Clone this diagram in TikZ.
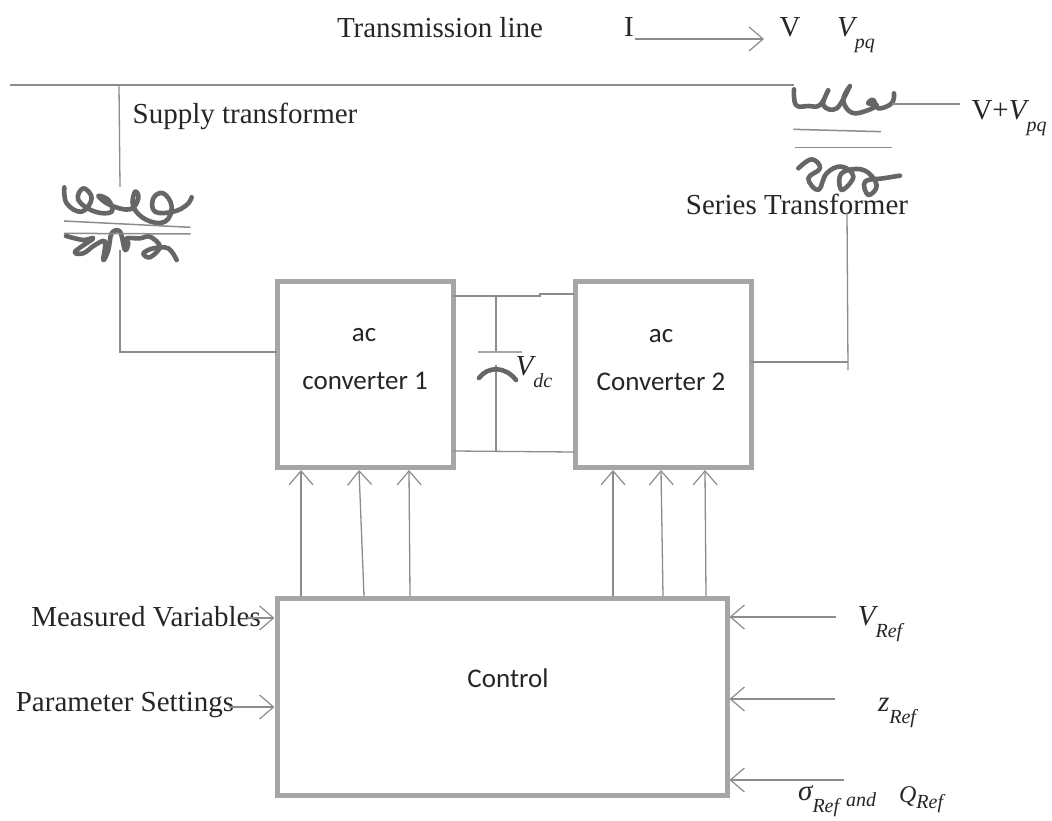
\documentclass[tikz,border=0pt]{standalone}
\usepackage{fontspec}
\setmainfont{Liberation Serif}
\newfontfamily\boxfont{Carlito}
\usetikzlibrary{arrows.meta}
\definecolor{boxgray}{HTML}{A6A6A6}
\definecolor{linegray}{HTML}{8C8C8C}
\definecolor{inkgray}{HTML}{666666}
\definecolor{txt}{HTML}{262626}
\newcommand{\mi}[2]{{\itshape #1}{\raisebox{-0.4em}{\itshape\fontsize{20}{20}\selectfont #2}}}
\tikzset{
  blockbox/.style={draw=boxgray,line width=5pt,fill=none,inner sep=0pt,outer sep=0pt},
  wire/.style={draw=linegray,line width=1.3pt},
  sig/.style={wire,-{Straight Barb[length=14pt,width=24pt,line width=1.2pt]}},
  coil/.style={draw=inkgray,line width=4.6pt,line cap=round,line join=round},
  lbl/.style={text=txt,inner sep=0pt,font=\fontsize{29}{32}\selectfont},
  boxlbl/.style={text=txt,inner sep=0pt,font=\boxfont\fontsize{27}{30}\selectfont,align=center},
}
\begin{document}
\begin{tikzpicture}[x=1pt,y=-1pt]
\useasboundingbox (0,0) rectangle (1052,821);
% blocks
\node[blockbox,minimum width=176pt,minimum height=186pt,anchor=north west] (c1) at (277,281) {};
\node[blockbox,minimum width=176pt,minimum height=186pt,anchor=north west] (c2) at (575,281) {};
\node[blockbox,minimum width=450pt,minimum height=197pt,anchor=north west] (ctl) at (277,598) {};
\node[boxlbl] (c1a) at (364,335) {ac};
\node[boxlbl] (c1b) at (365,381) {converter 1};
\node[boxlbl] (c2a) at (661,336) {ac};
\node[boxlbl] (c2b) at (661,382) {Converter 2};
\node[boxlbl] (ctltxt) at (508,678) {Control};
% labels
\node[lbl] (tl) at (440,28) {Transmission line};
\node[lbl] (I) at (629,27) {I};
\node[lbl] (V) at (790,27) {V};
\node[lbl] (vpq) at (856,35) {\mi{V}{pq}};
\node[lbl] (st) at (245,116) {Supply transformer};
\node[lbl] (vv) at (1009,118) {V+\mi{V}{pq}};
\node[lbl] (se) at (797,204) {Series Transformer};
\node[lbl] (vdc) at (534,372) {\mi{V}{dc}};
\node[lbl] (mv) at (146,617) {Measured Variables};
\node[lbl] (ps) at (125,705) {Parameter Settings};
\node[lbl] (vr) at (880,624) {\mi{V}{Ref}};
\node[lbl] (zr) at (897,713) {\mi{z}{Ref}};
\node[lbl,anchor=west] (sr) at (798,801) {\mi{σ}{Ref}\hspace{7pt}{\itshape\fontsize{20}{20}\selectfont\raisebox{-0.3em}{and}\hspace{23pt}{\fontsize{24}{24}\selectfont\raisebox{-0.1em}{Q}}\raisebox{-0.4em}{Ref}}};
% top line and current arrow
\coordinate (lineL) at (10,85);
\coordinate (lineR) at (794,85);
\draw[wire] (lineL) -- (lineR);
\coordinate (iS) at (635,39);
\coordinate (iE) at (764,39);
\draw[sig] (iS) -- (iE);
% supply transformer
\coordinate (tap) at (119,85);
\coordinate (sup1) at (120,187);
\coordinate (sup2) at (120,250);
\coordinate (sup3) at (120,352);
\draw[wire] (tap) -- (sup1);
\draw[wire] (sup2) -- (sup3) -- (c1.west |- sup3);
\begin{scope}[shift={(40,170)},x=0.3333pt,y=-0.3333pt]
\draw[coil] plot[smooth,tension=0.7] coordinates {(73,52) (80,100) (125,125) (155,85) (130,55) (115,90) (165,125) (215,125) (205,90) (175,78) (210,105) (270,118) (295,85) (285,65) (280,110) (320,150) (375,155) (395,110) (370,70) (340,85) (345,125) (400,125) (440,105) (455,82)};
\draw[coil] plot[smooth,tension=0.6] coordinates {(78,198) (130,210) (160,205) (105,245) (130,250) (165,225) (195,215) (190,270) (205,240) (215,190) (240,185) (255,240) (265,220) (260,205) (300,205) (330,200) (360,230) (330,262) (310,250) (340,235) (385,235) (410,270)};
\draw[line width=1.5pt,draw=linegray] (72,153) -- (452,172);
\draw[line width=1.5pt,draw=linegray] (72,190) -- (452,192);
\end{scope}
% series transformer
\begin{scope}[shift={(770,70)},x=0.3333pt,y=-0.3333pt]
\draw[coil] plot[smooth,tension=0.7] coordinates {(72,58) (78,105) (115,108) (150,105) (175,60) (160,105) (200,115) (240,48) (220,90) (245,128) (290,122) (320,105) (295,100) (310,90) (325,115) (365,100) (372,70)};
\draw[coil] plot[smooth,tension=0.7] coordinates {(85,295) (125,268) (150,295) (115,325) (145,360) (170,310) (215,290) (250,320) (215,360) (215,310) (280,300) (320,345) (295,375) (285,335) (340,325) (390,317)};
\draw[line width=1.5pt,draw=linegray] (70,178) -- (333,185);
\draw[line width=1.5pt,draw=linegray] (75,232) -- (367,232);
\end{scope}
\coordinate (serOut) at (960,104);
\coordinate (serOutS) at (892,104);
\draw[wire] (serOutS) -- (serOut);
\coordinate (ser1) at (847,212);
\coordinate (ser2) at (848,370);
\coordinate (ser3) at (848,362);
\draw[wire] (ser1) -- (ser2);
\draw[wire] (c2.east |- ser3) -- (ser3);
% dc link
\coordinate (t1) at (453,296);
\coordinate (t2) at (540,296);
\coordinate (t3) at (540,294);
\coordinate (t4) at (574,294);
\coordinate (b1) at (453,451);
\coordinate (b2) at (574,452);
\coordinate (cap1) at (496,296);
\coordinate (cap2) at (496,352);
\coordinate (cap3) at (496,365);
\coordinate (cap4) at (496,451);
\draw[wire] (t1) -- (t2) -- (t3) -- (t4);
\draw[wire] (b1) -- (b2);
\draw[wire] (cap1) -- (cap2);
\draw[wire] (cap3) -- (cap4);
\coordinate (pl1) at (478,352);
\coordinate (pl2) at (522,352);
\draw[wire,draw=boxgray] (pl1) -- (pl2);
\coordinate (cv1) at (479,378);
\coordinate (cv2) at (516,380);
\draw[coil] (cv1) .. controls (488,366) and (505,366) .. (cv2);
% control to converter arrows
\foreach \n/\xa/\xb in {a/301/301,b/364/359,c/410/409}{
  \coordinate (s\n) at (\xa,596);
  \coordinate (e\n) at (\xb,470);
  \draw[sig] (s\n) -- (e\n);
}
\foreach \n/\xa/\xb in {d/613/613,e/663/661,f/706/705}{
  \coordinate (s\n) at (\xa,596);
  \coordinate (e\n) at (\xb,470);
  \draw[sig] (s\n) -- (e\n);
}
% inputs left
\coordinate (inA) at (247,618);
\coordinate (inB) at (229,707);
\draw[sig] (inA) -- ([xshift=-2.5pt]ctl.west |- inA);
\draw[sig] (inB) -- ([xshift=-2.5pt]ctl.west |- inB);
% inputs right
\coordinate (inC) at (836,617);
\coordinate (inD) at (835,699);
\coordinate (inE) at (844,780);
\draw[sig] (inC) -- ([xshift=2.5pt]ctl.east |- inC);
\draw[sig] (inD) -- ([xshift=2.5pt]ctl.east |- inD);
\draw[sig] (inE) -- ([xshift=2.5pt]ctl.east |- inE);
\end{tikzpicture}
\end{document}
